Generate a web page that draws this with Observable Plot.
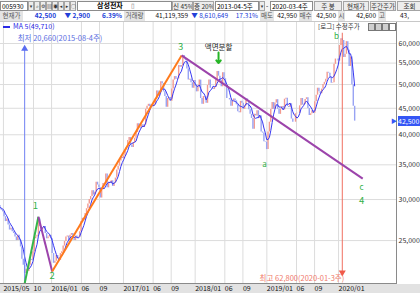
<!DOCTYPE html>
<html><head><meta charset="utf-8">
<script src="https://cdn.jsdelivr.net/npm/d3@7"></script>
<script src="https://cdn.jsdelivr.net/npm/@observablehq/plot@0.6"></script>
<style>
html,body{margin:0;padding:0;background:#fff;}
#wrap{position:relative;width:420px;height:293px;overflow:hidden;font-family:'Noto Sans CJK KR','DejaVu Sans',sans-serif;}
.c{position:absolute;box-sizing:border-box;font-size:6.5px;line-height:8px;white-space:nowrap;overflow:hidden;height:10px;}
.inp{background:#fff;border:1px solid #8c8c8c;padding-left:1px;color:#000;}
.btn{background:#ececec;border:1px solid #a4a4a4;text-align:center;color:#333;}
.ico{background:#ececec;border:1px solid #a4a4a4;text-align:center;color:#333;font-size:5px;overflow:visible;}
.lab{background:#e4e4e4;text-align:center;color:#555;border-right:1px solid #fff;}
.val{background:#fff;text-align:right;padding-right:2px;color:#111;}
.blue{color:#2340d8;}
.bold{font-weight:bold;}
#chart{position:absolute;left:0;top:22px;z-index:2;}
</style></head><body><div id="wrap"></div>
<script>
// ---- data (weekly closes, Samsung Electronics 005930) ----
const weekStart = "2015-03-30";
const closes2015 = [28900,29200,28800,28600,28400,27800,27200,27500,26800,26200,26400,26000,25800,25400,25000,25600,25000,24300,23000,22400,21600,22000,21800,22400,23000,22900,23800,25200,25400,25600,27500,26600,26200,26400,26600,25800,25200,25400,25600,25200];
const closes2016 = [23600,22600,22800,23400,23200,22900,23600,23800,24400,24900,25400,25500,25000,25600,25800,25200,25000,25500,25300,25400,26000,27200,27600,27400,28200,28800,29400,30000,30400,31200,30600,31000,32400,32000,31600,30200,31500,32200,32000,33600,31600,32400,32200,32600,31800,32300,33000,34200,34800,35600,36200,36000];
const closes2017 = [36400,37400,37800,39000,39500,38200,37800,38600,39400,40400,42000,41400,41200,41800,41300,41800,44800,45400,45800,45300,45600,45400,45700,46900,48600,47600,48200,50600,50200,48400,47400,45200,47000,47200,46400,49000,51000,51800,51200,51300,54400,54000,54400,56900,56000,55600,53600,51000,51200,50400,49200,50900];
const closes2018 = [49600,48400,49700,51000,47000,45800,47400,47300,46000,49800,51000,49200,49200,48900,49400,51000,53000,51900,50900,49500,52700,51300,49700,47000,47000,46700,45400,46500,46900,46500,45700,44300,44100,46400,46000,44800,45500,46900,46400,44700,43800,43000,41000,43800,43500,44500,43000,43500,40500,40300,38800,38700,37450];
const closes2019 = [40500,42300,44750,46150,44800,46050,46750,44800,43800,44850,45350,44650,46850,47050,45350,45150,45900,42900,42300,42300,43900,44000,44000,45500,47000,45650,45800,46800,47150,44950,43600,43900,44500,44000,46300,47700,49200,48400,48000,49000,50000,50500,51200,52800,52600,51600,50300,50400,54700,56000,56000,55500];
const closes2020 = [59500,61300,60800,56400,57200,60500,58200,54200,56500,49950,45400,42500];

const yTicks = [25000,30000,35000,40000,45000,50000,55000,60000];
const xTickDates = ["2015-05-01","2015-10-01","2016-01-01","2016-06-01","2016-09-01","2017-01-01","2017-06-01","2017-09-01","2018-01-01","2018-06-01","2018-09-01","2019-01-01","2019-06-01","2019-09-01","2020-01-01"];
const xTickLabels = ["2015/05","10","2016/01","06","09","2017/01","06","09","2018/01","06","09","2019/01","06","09","2020/01"];

// Elliott wave pivots
const waveDates = ["2015-08-17","2015-10-26","2016-01-04","2017-10-24","2020-05-03"];
const wavePrices = [20660,27800,21800,56900,32930];
const waveColors = ["#35b54a","#9c44ab","#ff7a1c","#9c44ab"];
const waveLabels = ["1","2","3","a","b","c","4"];
const waveLabelDates = ["2015-10-11","2016-01-04","2017-10-19","2018-12-20","2019-12-22","2020-04-27","2020-04-27"];
const waveLabelPrices = [29200,21380,59200,35080,61900,31700,29800];

// low / high markers
const lowDate = "2015-08-17", lowPrice = 20660, lowTop = 58600, lowLabelPrice = 61350;
const highDate = "2020-01-20", highPrice = 62800, highBottom = 21700, highLabelPrice = 21070;
const splitDate = "2018-04-30", splitText = "액면분할", splitPrice = 58940, splitArrowFrom = 57640, splitArrowTo = 55000;
const currentPrice = 42500, maLast = "49,710";

// ---- header ----
const wrap = document.getElementById("wrap");
function box(l,t,w,txt,cls,extra){const d=document.createElement("div");d.className="c "+cls;d.style.left=l+"px";d.style.top=t+"px";d.style.width=w+"px";if(extra)Object.assign(d.style,extra);d.textContent=txt;wrap.appendChild(d);return d;}
const hdr=document.createElement("div");Object.assign(hdr.style,{position:"absolute",left:"0",top:"0",width:"420px",height:"22px",background:"#f4f4f4",borderBottom:"1px solid #c8c8c8",boxSizing:"border-box"});wrap.appendChild(hdr);
box(0,1,28,"005930","inp");
[[28,"▾"],[34,"⌕"],[40,"⚙"],[46,"▤"],[52,"◉"],[58,"◂"],[64,"▸"],[70,"○"]].forEach(a=>box(a[0],1,6,a[1],"ico"));
box(77,1,95,"","inp");
box(97,1,32,"삼성전자","bold",{fontSize:"7px",overflow:"visible"});
box(131,1,8,"▯","",{color:"#777"});
box(172,1,21,"신 45%","btn");
box(193,1,21,"증 20%","btn");
box(215,1,44,"2013-04-5주","inp");
box(259,1,6,"▾","ico");
box(266,1,4,"-","");
box(270,1,43,"2020-03-4주","inp");
[[314,28,"주 봉"],[343,26,"현재가"],[370,26,"주간주가"],[397,25,"조회"]].forEach(a=>box(a[0],1,a[1],a[2],"btn"));
[[0,24,"현재가","lab"],[24,34,"42,500","val blue bold"],[58,34,"▼ 2,900","val blue bold"],[92,32,"6.39%","val blue bold"],[124,22,"거래량","lab"],[146,44,"41,119,359","val"],[190,40,"▼ 8,610,649","val blue"],[230,30,"17.31%","val blue"],[260,15,"매도","lab"],[275,24,"42,950","val"],[299,14,"매수","lab"],[313,25,"42,500","val"],[338,8,"시","lab"],[346,32,"42,600","val"],[378,9,"고","lab"],[387,33,"43,","val",{textAlign:"left",paddingLeft:"13px"}]].forEach(a=>box(a[0],11,a[1],a[2],a[3],a[4]));

// bottom band
const band=document.createElement("div");Object.assign(band.style,{position:"absolute",left:"0",top:"284px",width:"420px",height:"9px",background:"#e2e2e2"});wrap.appendChild(band);

// ---- chart ----
const closes = [].concat(closes2015,closes2016,closes2017,closes2018,closes2019,closes2020);
const start = new Date(weekStart);
const rows = closes.map((c,i)=>({date:d3.utcDay.offset(start,7*i),open:i?closes[i-1]:c,close:c}));
const ups = rows.filter(d=>d.close>=d.open), downs = rows.filter(d=>d.close<d.open);
const waves = waveDates.map((d,i)=>({date:new Date(d),price:wavePrices[i]}));
const segs = waves.slice(1).map((w,i)=>({x1:waves[i].date,y1:waves[i].price,x2:w.date,y2:w.price,color:waveColors[i]}));
const wl = waveLabels.map((t,i)=>({text:t,date:new Date(waveLabelDates[i]),price:waveLabelPrices[i]}));
const wlNum = wl.filter(d=>/\d/.test(d.text)), wlLet = wl.filter(d=>!/\d/.test(d.text));
const xTicks = xTickDates.map(d=>new Date(d));
const labelMap = new Map(xTicks.map((d,i)=>[+d,xTickLabels[i]]));
const lowRow = [{date:new Date(lowDate),y1:lowPrice,y2:lowTop,ly:lowLabelPrice,text:`최저 ${d3.format(",")(lowPrice)}(2015-08-4주)`}];
const highRow = [{date:new Date(highDate),y1:highPrice,y2:highBottom,ly:highLabelPrice,text:`최고 ${d3.format(",")(highPrice)}(2020-01-3주)`}];
const splitRow = [{date:new Date(splitDate),price:splitPrice,a1:splitArrowFrom,a2:splitArrowTo,text:splitText}];
const font = "'Noto Sans CJK KR','DejaVu Sans',sans-serif";

const chart = Plot.plot({
  width:420, height:271, marginLeft:0, marginRight:24, marginTop:0, marginBottom:10,
  style:{fontFamily:font, fontSize:"7px", background:"transparent", color:"#222", overflow:"visible"},
  x:{type:"utc", domain:[new Date("2015-04-16"), new Date("2020-10-22")]},
  y:{type:"log", domain:[20660,65870]},
  color:{type:"identity"},
  marks:[
    Plot.gridX(xTicks,{stroke:"#dcdcdc",strokeOpacity:1}),
    Plot.gridY(yTicks,{stroke:"#dcdcdc",strokeOpacity:1}),
    Plot.ruleX(ups,{x:"date",y1:"open",y2:"close",stroke:"#f39a90",strokeWidth:1.4,clip:true}),
    Plot.ruleX(downs,{x:"date",y1:"open",y2:"close",stroke:"#98a3f3",strokeWidth:1.4,clip:true}),
    Plot.lineY(rows,Plot.windowY({k:5,anchor:"end"},{x:"date",y:"close",stroke:"#3636f2",strokeWidth:1,clip:true})),
    Plot.ruleX(lowRow,{x:"date",y1:"y1",y2:"y2",stroke:"#7080f2",strokeWidth:1}),
    Plot.dot(lowRow,{x:"date",y:"y2",symbol:"triangle",r:2.6,fill:"#5a6cf0",stroke:null}),
    Plot.text(lowRow,{x:"date",y:"ly",text:"text",textAnchor:"start",dx:-7,fill:"#5b6ee1",fontSize:7.5}),
    Plot.ruleX(highRow,{x:"date",y1:"y1",y2:"y2",stroke:"#f07060",strokeWidth:1}),
    Plot.dot(highRow,{x:"date",y:"y2",symbol:"triangle",rotate:180,r:2.6,fill:"#f05a4a",stroke:null}),
    Plot.text(highRow,{x:"date",y:"ly",text:"text",textAnchor:"end",dx:2,fill:"#f07a6a",fontSize:7.5}),
    Plot.link(segs,{x1:"x1",y1:"y1",x2:"x2",y2:"y2",stroke:"color",strokeWidth:2}),
    Plot.text(wlNum,{x:"date",y:"price",text:"text",fill:"#30b048",fontSize:9.5}),
    Plot.text(wlLet,{x:"date",y:"price",text:"text",fill:"#30b048",fontSize:8}),
    Plot.text(splitRow,{x:"date",y:"price",text:"text",fill:"#222",fontSize:7.5}),
    Plot.arrow(splitRow,{x1:"date",x2:"date",y1:"a1",y2:"a2",stroke:"#25b525",strokeWidth:2,headLength:5,headAngle:80}),
    Plot.axisX(xTicks,{tickSize:0,tickPadding:3,textAnchor:"start",tickFormat:d=>labelMap.get(+d),fill:"#111",fontSize:7}),
    Plot.axisY(yTicks,{anchor:"right",tickSize:0,tickPadding:2,tickFormat:d3.format(","),fill:"#333",fontSize:7})
  ]
});
chart.id="chart";
wrap.appendChild(chart);

// frame lines
const fr=document.createElement("div");Object.assign(fr.style,{position:"absolute",left:"-1px",top:"22px",width:"398px",height:"262px",borderRight:"1px solid #8a8a8a",borderBottom:"1px solid #8a8a8a",boxSizing:"border-box",zIndex:3,pointerEvents:"none"});wrap.appendChild(fr);

// legend / status labels inside chart
const lg=document.createElement("div");Object.assign(lg.style,{position:"absolute",left:"3px",top:"22px",fontSize:"7px",lineHeight:"9px",color:"#2a2ae6",zIndex:4,whiteSpace:"nowrap"});
lg.innerHTML='<span style="display:inline-block;width:7px;height:1.5px;background:#2a2ae6;vertical-align:middle;margin-right:3px"></span>MA 5('+maLast+')';wrap.appendChild(lg);
const st=document.createElement("div");Object.assign(st.style,{position:"absolute",left:"318px",top:"22px",fontSize:"6.5px",lineHeight:"9px",color:"#333",zIndex:4,whiteSpace:"nowrap"});st.textContent="[로그] 수정주가";wrap.appendChild(st);
[368,375,382].forEach(l=>{const b=document.createElement("div");Object.assign(b.style,{position:"absolute",left:l+"px",top:"23px",width:"7px",height:"8px",background:"#cfcfcf",border:"1px solid #777",boxSizing:"border-box",zIndex:4});wrap.appendChild(b);});
const wb=document.createElement("div");Object.assign(wb.style,{position:"absolute",left:"389px",top:"23px",width:"7px",height:"8px",background:"#fff",border:"1px solid #777",boxSizing:"border-box",zIndex:4});wrap.appendChild(wb);

// current price tag on right axis
const yc = chart.scale("y").apply(currentPrice) + 22;
const tag=document.createElement("div");Object.assign(tag.style,{position:"absolute",left:"398px",top:(yc-5)+"px",width:"22px",height:"10px",background:"#3556f5",color:"#fff",fontSize:"7px",lineHeight:"10px",zIndex:5,whiteSpace:"nowrap"});tag.textContent=d3.format(",")(currentPrice);wrap.appendChild(tag);
const tri=document.createElement("div");Object.assign(tri.style,{position:"absolute",left:"391px",top:(yc-5)+"px",fontSize:"6px",lineHeight:"10px",color:"#3556f5",zIndex:5});tri.textContent="▶";wrap.appendChild(tri);
</script></body></html>
